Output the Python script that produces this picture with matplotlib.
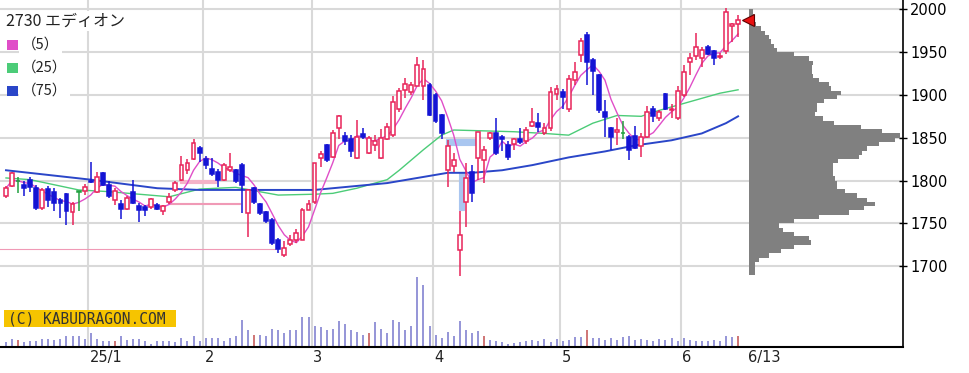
import numpy as np
import pandas as pd
import matplotlib
matplotlib.use('Agg')
import matplotlib.pyplot as plt
from matplotlib.patches import Rectangle

# daily candles, 2024/12 .. 2025/6/13
opens = [1782, 1794, 1799, 1795, 1801, 1791, 1768, 1790, 1787, 1777,
         1784, 1763, 1787, 1788, 1800, 1787, 1809, 1795, 1777, 1773,
         1767, 1787, 1770, 1769, 1769, 1771, 1764, 1775, 1789, 1801,
         1812, 1825, 1838, 1825, 1814, 1810, 1801, 1812, 1812, 1818,
         1762, 1791, 1773, 1763, 1754, 1731, 1713, 1726, 1731, 1731,
         1766, 1775, 1826, 1841, 1828, 1861, 1852, 1849, 1826, 1854,
         1832, 1842, 1826, 1849, 1853, 1883, 1906, 1903, 1910, 1910,
         1912, 1900, 1877, 1812, 1817, 1719, 1775, 1810, 1826, 1824,
         1850, 1855, 1851, 1842, 1843, 1849, 1846, 1864, 1867, 1856,
         1861, 1901, 1904, 1883, 1917, 1947, 1970, 1941, 1923, 1880,
         1861, 1857, 1855, 1851, 1852, 1840, 1851, 1883, 1873, 1901,
         1882, 1873, 1900, 1938, 1945, 1943, 1956, 1951, 1944, 1951,
         1981, 1983]
highs = [1794, 1810, 1804, 1800, 1804, 1795, 1791, 1794, 1791, 1779,
         1785, 1775, 1788, 1796, 1822, 1810, 1810, 1799, 1791, 1777,
         1782, 1801, 1774, 1771, 1780, 1774, 1771, 1785, 1799, 1829,
         1825, 1849, 1840, 1829, 1826, 1814, 1821, 1832, 1814, 1820,
         1790, 1793, 1774, 1764, 1756, 1733, 1729, 1736, 1743, 1768,
         1777, 1821, 1834, 1843, 1859, 1877, 1857, 1853, 1871, 1861,
         1852, 1853, 1860, 1867, 1899, 1908, 1920, 1915, 1944, 1941,
         1914, 1902, 1878, 1847, 1832, 1764, 1820, 1818, 1857, 1840,
         1857, 1873, 1853, 1846, 1850, 1861, 1862, 1885, 1879, 1867,
         1909, 1912, 1907, 1923, 1939, 1966, 1974, 1943, 1925, 1894,
         1863, 1873, 1869, 1853, 1864, 1855, 1887, 1887, 1882, 1902,
         1889, 1910, 1935, 1949, 1972, 1956, 1958, 1953, 1949, 2001,
         1984, 1993]
lows = [1780, 1793, 1786, 1782, 1787, 1765, 1765, 1769, 1764, 1756,
        1748, 1748, 1764, 1783, 1797, 1786, 1794, 1779, 1771, 1755,
        1765, 1773, 1752, 1759, 1767, 1766, 1760, 1773, 1787, 1799,
        1808, 1824, 1822, 1814, 1805, 1793, 1799, 1810, 1797, 1762,
        1734, 1773, 1760, 1750, 1725, 1715, 1711, 1723, 1727, 1730,
        1765, 1773, 1816, 1822, 1826, 1849, 1842, 1827, 1825, 1848,
        1831, 1835, 1825, 1847, 1851, 1880, 1896, 1900, 1910, 1894,
        1875, 1867, 1849, 1793, 1810, 1688, 1746, 1775, 1801, 1797,
        1847, 1830, 1835, 1824, 1836, 1843, 1843, 1862, 1857, 1853,
        1858, 1894, 1884, 1880, 1912, 1939, 1912, 1900, 1879, 1851,
        1836, 1842, 1848, 1824, 1837, 1828, 1850, 1868, 1869, 1882,
        1873, 1871, 1898, 1923, 1941, 1933, 1947, 1935, 1942, 1948,
        1962, 1968]
closes = [1791, 1809, 1799, 1791, 1793, 1768, 1789, 1777, 1774, 1774,
          1764, 1773, 1787, 1793, 1798, 1804, 1795, 1782, 1788, 1767,
          1780, 1774, 1765, 1765, 1778, 1767, 1770, 1781, 1797, 1818,
          1820, 1844, 1832, 1818, 1808, 1801, 1818, 1816, 1799, 1795,
          1789, 1775, 1762, 1753, 1727, 1720, 1721, 1730, 1739, 1766,
          1773, 1820, 1831, 1824, 1855, 1875, 1846, 1834, 1851, 1851,
          1850, 1846, 1850, 1863, 1892, 1905, 1913, 1912, 1935, 1930,
          1877, 1869, 1855, 1840, 1824, 1736, 1803, 1785, 1857, 1836,
          1856, 1832, 1848, 1828, 1848, 1845, 1859, 1868, 1863, 1861,
          1904, 1907, 1898, 1919, 1927, 1963, 1939, 1928, 1882, 1874,
          1851, 1859, 1855, 1836, 1838, 1851, 1880, 1875, 1880, 1883,
          1884, 1905, 1927, 1943, 1956, 1953, 1948, 1943, 1946, 1997,
          1983, 1987]
# volume, relative units
vols = [4.7, 8, 6.7, 4.7, 6.3, 6.3, 8, 8, 6.7, 8,
        10.7, 10.7, 10.7, 8, 14, 8, 6.3, 6.3, 6.3, 10.7,
        6.7, 8, 8, 6.3, 3.3, 6.3, 6.3, 6.3, 4.7, 9,
        6.3, 10.7, 6.3, 9, 9, 9, 6.3, 9, 10.7, 27.3,
        16.7, 12.3, 12.3, 10.7, 18, 16.7, 14, 16.7, 16.7, 30,
        30, 21.3, 19.7, 16.7, 18.3, 25.7, 23, 16.7, 15, 12.3,
        14, 24.7, 18.3, 14, 27.3, 24.7, 16.7, 21.3, 70, 62.3,
        21.3, 12.3, 9, 15, 10.7, 25.7, 16.7, 14, 15.7, 11.3,
        7.3, 6.3, 4.7, 3.3, 4, 4.7, 6.3, 7.3, 6.3, 8,
        4.7, 8, 6.3, 7.3, 10, 10, 16.7, 9, 9, 7.3,
        9, 7.3, 10, 10.7, 7.3, 8, 7.3, 6.3, 8, 7.3,
        9, 6.3, 9, 7.3, 6.3, 6.3, 6.3, 7.3, 6.3, 10.7,
        9.7, 10.7]
red_vol_days = [2, 18, 41, 60, 79, 96, 121]
doji_days = [2, 12, 102]

# moving averages read at sample days
ma25_day = [0, 4, 12, 17, 27, 32, 38, 45, 51, 54, 58, 63, 65, 69, 72, 74,
            84, 89, 93, 97, 101, 105, 107, 113, 118, 121]
ma25_val = [1803, 1801, 1789, 1787, 1781, 1790, 1792, 1783, 1784, 1785, 1791,
            1801, 1812, 1836, 1853, 1859, 1857, 1855, 1853, 1867, 1876, 1875,
            1880, 1892, 1902, 1906]
ma75_day = [0, 14, 25, 32, 51, 63, 73, 77, 82, 87, 93, 99, 104, 110, 115,
            119, 121]
ma75_val = [1812, 1801, 1791, 1789, 1789, 1797, 1809, 1809, 1812, 1818, 1827,
            1834, 1841, 1847, 1855, 1867, 1875]

# price gaps (窓): first day, day filled, low, high, up/down
gap_start = [-1, 27, 29, 73, 75]
gap_end = [45, 39, 35, 78, 76]
gap_low = [1719.5, 1772.5, 1797, 1841.5, 1766]
gap_high = [1720.5, 1773.5, 1801, 1849, 1810]
gap_up = [True, True, True, False, False]

month_first = [14, 33, 51, 71, 92, 112]
month_labels = ['25/1', '2', '3', '4', '5', '6']
last_label = '6/13'

# price-by-volume profile, 5 yen bins from 1690
profile_low = np.arange(1690, 2000, 5)
profile_vol = [6, 6, 6, 10, 20, 32, 45, 62, 60, 45,
               34, 30, 45, 70, 100, 115, 126, 118, 108, 96,
               88, 88, 86, 84, 84, 84, 89, 110, 113, 118,
               130, 146, 151, 133, 112, 85, 74, 66, 68, 68,
               75, 88, 92, 82, 80, 70, 64, 63, 63, 64,
               60, 45, 28, 25, 22, 20, 16, 12, 7, 6,
               5, 4]

title = '2730 エディオン'
legend_labels = ['（5）', '（25）', '（75）']

RED = '#e8245a'
BLUE = '#1414d4'
GREEN = '#22a040'
C_MA5 = '#e04ec8'
C_MA25 = '#4ccc78'
C_MA75 = '#2a46c8'
GRID = '#d9d9d9'

W, H = 969, 373
fig = plt.figure(figsize=(W / 100, H / 100), dpi=100)
pos = [0, 26 / H, 903 / W, 347 / H]

# volume (bottom layer)
axv = fig.add_axes(pos)
axv.set_xlim(-0.99, 148.26)
axv.set_ylim(0, 347)
axv.axis('off')
days = np.arange(len(closes))
vcol = ['#cc6a6a' if d in red_vol_days else '#8c8cd4' for d in days]
axv.vlines(days, 0, vols, colors=vcol, lw=1.3)
for m in month_first:
    axv.axvline(m - 0.5, color=GRID, lw=1.5, zorder=0)

# price
ax = fig.add_axes(pos)
ax.patch.set_alpha(0)
ax.set_xlim(-0.99, 148.26)
ax.set_ylim(1605.5, 2010.9)
for p in range(1700, 2001, 50):
    ax.axhline(p, color=GRID, lw=1.5, zorder=0)

for s, e, lo, hi, up in zip(gap_start, gap_end, gap_low, gap_high, gap_up):
    c = ('#f5b3c8' if hi - lo > 2 else '#f09ab6') if up else '#a9c6f0'
    ax.add_patch(Rectangle((s - 0.2, lo), e - s - 0.1, hi - lo, facecolor=c,
                           edgecolor=c, lw=0.8, zorder=1))

ma5 = pd.Series(closes).rolling(5, min_periods=1).mean()
ax.plot(ma25_day, ma25_val, color=C_MA25, lw=1, zorder=2)
ax.plot(ma75_day, ma75_val, color=C_MA75, lw=1.4, zorder=2)
ax.plot(days, ma5, color=C_MA5, lw=1, zorder=2)

o = np.array(opens); c = np.array(closes)
for d in days:
    if d in doji_days:
        col, face = GREEN, GREEN
    elif c[d] >= o[d]:
        col, face = RED, 'white'
    else:
        col, face = BLUE, BLUE
    ax.vlines(d, lows[d], highs[d], color=col, lw=1.1, zorder=3)
    lo = min(o[d], c[d])
    ht = max(abs(c[d] - o[d]), 0.6)
    ax.add_patch(Rectangle((d - 0.32, lo), 0.64, ht, facecolor=face,
                           edgecolor=col, lw=1.1, zorder=4))

ax.spines['left'].set_visible(False)
ax.spines['top'].set_visible(False)
ax.spines['right'].set_linewidth(1.2)
ax.spines['bottom'].set_linewidth(1.5)
ax.yaxis.tick_right()
ax.set_yticks(range(1700, 2001, 50))
ax.tick_params(axis='y', direction='inout', length=6, width=1, pad=2,
               labelsize=10.5)
ax.set_xticks([])
for m, lab in zip(month_first, month_labels):
    ax.text(m - 0.2, -0.03, lab, transform=ax.get_xaxis_transform(),
            ha='left', va='center', fontsize=10.5, color='#222')
ax.text(days[-1] + 1.7, -0.03, last_label, transform=ax.get_xaxis_transform(),
        ha='left', va='center', fontsize=10.5, color='#222')

# volume profile
axp = fig.add_axes(pos)
axp.patch.set_alpha(0)
axp.set_xlim(-749, 154)
axp.set_ylim(1605.5, 2010.9)
axp.axis('off')
axp.barh(profile_low + 2.5, profile_vol, height=5, color='#808080', lw=0)
axp.plot(days[-1] + 1.7, closes[-1], marker='<', ms=8, color='#e81010',
         mec='#600000', mew=0.8, transform=ax.transData, clip_on=False)

# legend / title
jp = ['Noto Sans CJK JP', 'DejaVu Sans']
fig.text(6 / W, 1 - 21 / H, title, family=jp, fontsize=11.5, va='center',
         ha='left', color='#222',
         bbox=dict(facecolor='white', edgecolor='none', pad=1))
for k, (lab, col) in enumerate(zip(legend_labels, [C_MA5, C_MA25, C_MA75])):
    yc = 45 + 23 * k
    fig.text(22 / W, 1 - yc / H, lab, family=jp, fontsize=10.5, va='center',
             ha='left', color='#222',
             bbox=dict(facecolor='white', edgecolor='none', pad=2))
    fig.patches.append(Rectangle((7 / W, 1 - (yc + 5) / H), 11 / W, 10 / H,
                                 transform=fig.transFigure, facecolor=col,
                                 edgecolor='none'))

fig.patches.append(Rectangle((4 / W, 1 - 327 / H), 172 / W, 17 / H,
                             transform=fig.transFigure, facecolor='#f6c400',
                             edgecolor='none', zorder=5))
fig.text(8 / W, 1 - 318.5 / H, '(C) KABUDRAGON.COM', family='DejaVu Sans Mono',
         fontsize=10.5, va='center', ha='left', color='#333', zorder=6)

fig.savefig('out.png', dpi=100)
